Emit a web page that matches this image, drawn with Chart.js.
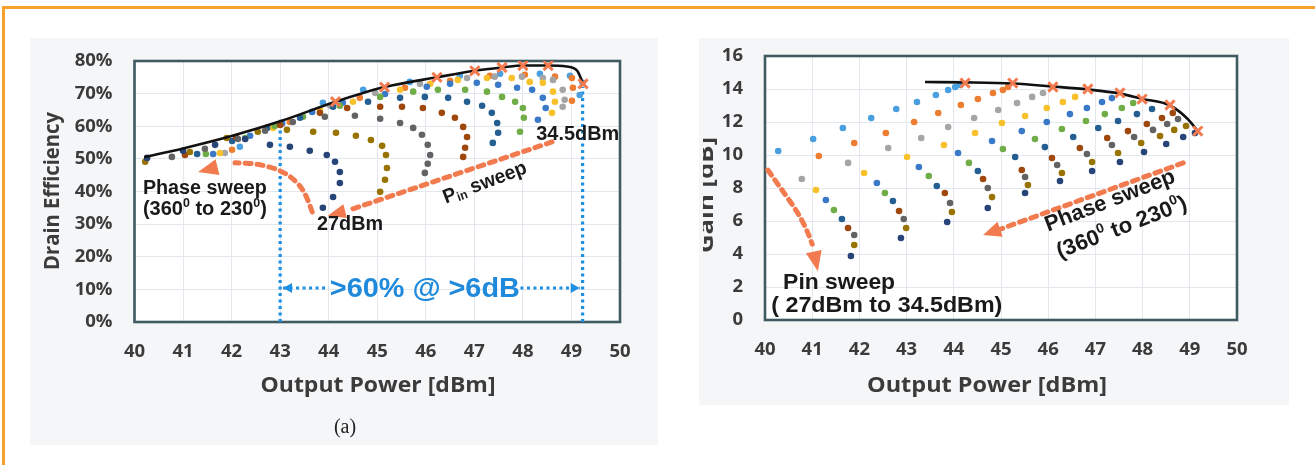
<!DOCTYPE html>
<html><head><meta charset="utf-8">
<script src="https://cdn.jsdelivr.net/npm/chart.js@4.4.1/dist/chart.umd.min.js"></script>
<style>
html,body{margin:0;padding:0;background:#fff;width:1315px;height:465px;overflow:hidden;}
#frame{position:absolute;left:2px;top:6px;width:1400px;height:500px;border-top:3px solid #F6A12C;border-left:3px solid #F6A12C;}
.panel{position:absolute;background:#F5F6F8;}
canvas{position:absolute;left:0;top:0;width:1315px;height:465px;}
</style></head><body>
<div id="frame"></div>
<div class="panel" style="left:30px;top:38px;width:628px;height:407px"></div>
<div class="panel" style="left:699px;top:38px;width:590px;height:367px"></div>
<canvas id="eff" width="1315" height="465"></canvas>
<canvas id="gain" width="1315" height="465"></canvas>
<script>
// ---------- axis ticks ----------
const powerTicks = [40,41,42,43,44,45,46,47,48,49,50];
const effTickLabels = ['0%','10%','20%','30%','40%','50%','60%','70%','80%'];
const gainTickLabels = ['0','2','4','6','8','10','12','14','16'];

// ---------- Drain efficiency [%] vs Pout [dBm]; one array per Pin (phase sweep 360° -> 230°) ----------
const effPin27_00 = [[40.26,50.3],[41.00,52.5],[41.66,54.3],[42.28,56.1],[42.79,54.3],[43.20,53.7],[43.61,52.5],[43.96,51.2],[44.13,49.1],[44.23,46.0],[44.23,42.6],[44.09,38.3],[43.88,35.0]];
const effPin27_75 = [[40.22,49.1],[41.14,52.1],[41.90,56.4],[42.54,58.3],[43.14,58.9],[43.68,58.3],[44.15,58.0],[44.56,57.1],[44.87,55.8],[45.10,54.0],[45.18,51.2],[45.20,47.2],[45.16,43.6],[45.06,39.9]];
const effPin28_50 = [[40.77,50.6],[41.45,53.1],[42.13,56.1],[42.69,58.6],[43.26,61.3],[43.92,62.9],[44.54,63.2],[45.06,62.3],[45.47,61.0],[45.74,59.5],[45.92,57.4],[46.04,54.3],[46.09,51.2],[46.04,48.5],[45.98,45.7]];
const effPin29_25 = [[41.04,51.2],[42.09,56.7],[43.00,60.4],[43.82,64.1],[44.38,65.6],[45.06,66.0],[45.51,66.0],[45.94,65.6],[46.33,64.1],[46.60,62.6],[46.77,59.8],[46.85,56.7],[46.81,53.4],[46.77,50.6]];
const effPin30_00 = [[41.29,51.5],[42.01,55.5],[42.73,59.5],[43.41,62.6],[44.09,66.0],[44.81,67.5],[45.47,68.7],[45.98,69.0],[46.46,68.7],[46.85,67.5],[47.16,66.3],[47.36,64.1],[47.47,61.0],[47.49,58.0],[47.38,54.9]];
const effPin30_75 = [[41.47,51.5],[42.28,56.4],[42.89,60.1],[43.47,62.9],[44.23,66.3],[45.06,69.0],[45.74,70.6],[46.25,71.2],[46.81,71.2],[47.26,70.6],[47.57,69.0],[47.84,67.5],[48.00,65.6],[48.02,62.6],[47.94,58.3]];
const effPin31_50 = [[41.62,51.5],[42.38,57.1],[43.04,61.0],[43.66,64.4],[44.29,67.2],[45.16,69.9],[46.02,72.1],[46.50,73.0],[47.05,73.3],[47.49,72.7],[47.88,71.8],[48.19,71.2],[48.41,68.7],[48.47,65.6],[48.31,62.0]];
const effPin32_25 = [[41.76,51.8],[42.85,59.5],[43.82,65.0],[44.50,67.5],[45.47,71.2],[46.09,73.0],[46.66,74.2],[47.26,74.8],[47.77,74.8],[48.14,73.6],[48.41,73.3],[48.62,70.6],[48.66,67.5],[48.60,64.1]];
const effPin33_00 = [[41.86,51.8],[43.04,60.7],[44.03,66.3],[44.96,70.2],[45.88,73.0],[46.85,74.8],[47.42,75.2],[47.98,75.2],[48.41,74.8],[48.62,74.2],[48.82,71.2],[48.86,68.1],[48.82,66.0]];
const effPin33_75 = [[42.01,52.8],[43.20,61.3],[44.64,68.7],[45.57,71.8],[46.50,73.9],[47.32,75.5],[48.04,75.8],[48.66,75.2],[49.01,74.8],[49.03,71.8],[49.01,67.8]];
const effPin34_50 = [[42.17,53.7],[43.88,67.2],[44.71,71.2],[45.67,73.6],[46.70,75.5],[47.53,76.1],[48.35,76.1],[48.97,75.5],[49.23,73.3],[49.17,69.6]];
const effEnvelope = [[40.2,50.5],[41,53.2],[42,57.0],[43,61.5],[44.14,67.5],[45.15,72.0],[46.23,75.0],[47.01,77.0],[47.57,78.0],[48.0,78.6],[48.52,78.6],[48.9,78.3],[49.12,77.0],[49.24,73.0]];
const effMarked = [[44.14,67.5],[45.15,72.0],[46.23,75.0],[47.01,77.0],[47.57,78.0],[48.0,78.6],[48.52,78.6],[49.24,73.0]];
const effRangeLow = [[43.0,0],[43.0,62]];
const effRangeHigh = [[49.23,0],[49.23,72]];

// ---------- Gain [dB] vs Pout [dBm]; one array per Pin ----------
const gainPin1  = [[40.28,10.24],[41.02,10.97],[41.65,11.64],[42.25,12.24],[42.78,12.79],[43.22,13.21],[43.62,13.64],[43.88,13.94],[44.03,14.12],[44.13,14.24]];
const gainPin2  = [[41.14,9.94],[41.89,10.73],[42.56,11.33],[43.16,12.00],[43.67,12.55],[44.15,13.03],[44.51,13.39],[44.83,13.76],[45.04,13.94],[45.15,14.12]];
const gainPin3  = [[40.78,8.55],[41.76,9.52],[42.61,10.42],[43.31,11.03],[43.88,11.70],[44.43,12.24],[44.94,12.73],[45.34,13.15],[45.66,13.52],[45.89,13.76]];
const gainPin4  = [[41.08,7.88],[42.10,8.91],[43.01,9.88],[43.79,10.61],[44.45,11.33],[45.02,11.94],[45.51,12.36],[45.97,12.85],[46.31,13.21],[46.57,13.52]];
const gainPin5  = [[41.29,7.27],[42.37,8.30],[43.26,9.27],[44.09,10.12],[44.81,10.85],[45.44,11.45],[45.97,12.00],[46.46,12.48],[46.82,12.85],[47.14,13.21],[47.35,13.45]];
const gainPin6  = [[41.46,6.67],[42.54,7.70],[43.47,8.73],[44.32,9.52],[45.04,10.36],[45.72,10.97],[46.29,11.58],[46.80,12.06],[47.20,12.48],[47.56,12.85],[47.80,13.15]];
const gainPin7  = [[41.63,6.12],[42.71,7.21],[43.64,8.12],[44.51,9.03],[45.30,9.88],[45.93,10.48],[46.53,11.09],[47.06,11.64],[47.48,12.06],[47.88,12.48],[48.20,12.79]];
const gainPin8  = [[41.76,5.58],[42.84,6.61],[43.81,7.70],[44.62,8.55],[45.44,9.09],[46.08,9.82],[46.67,10.42],[47.25,11.03],[47.69,11.45],[48.09,11.88],[48.41,12.24],[48.64,12.55]];
const gainPin9  = [[41.89,5.15],[42.94,6.12],[43.92,7.09],[44.72,8.00],[45.51,8.67],[46.19,9.39],[46.82,10.06],[47.35,10.61],[47.82,11.09],[48.22,11.52],[48.52,11.88],[48.75,12.18]];
const gainPin10 = [[41.89,4.55],[42.99,5.58],[43.96,6.55],[44.81,7.45],[45.57,8.18],[46.29,8.91],[46.93,9.58],[47.48,10.12],[47.97,10.73],[48.37,11.15],[48.67,11.52],[48.92,11.76]];
const gainPin11 = [[41.82,3.88],[42.88,4.97],[43.86,5.94],[44.72,6.79],[45.51,7.70],[46.25,8.42],[46.93,9.03],[47.52,9.58],[48.03,10.18],[48.50,10.67],[48.86,11.09],[49.11,11.33]];
const gainEnvelope = [[43.39,14.42],[44.24,14.40],[45.25,14.33],[46.10,14.15],[46.84,13.97],[47.52,13.72],[47.99,13.40],[48.58,13.00],[48.95,12.20],[49.17,11.45]];
const gainMarked = [[44.24,14.36],[45.25,14.36],[46.10,14.12],[46.84,14.00],[47.52,13.76],[47.99,13.39],[48.58,13.03],[49.17,11.45]];

// ---------- styles ----------
const palette = ['#4A9FE0','#ED7D31','#A5A5A5','#F8C12C','#3A78C8','#70AD47','#255E91','#9E480E','#636363','#997300','#264478'];
const ORANGE = '#F27A4F';
const BLUE = '#1E8FE1';
const TXT = '#3b3b3b';
const SANS = "'Liberation Sans', Arial, sans-serif";
const OPEN = "'Open Sans', sans-serif";

const toXY = arr => arr.map(p => ({x:p[0], y:p[1]}));

function dots(arr, color){ return {type:'scatter', data:toXY(arr), backgroundColor:color, borderColor:color, pointRadius:3.3, pointBorderWidth:0, showLine:false, order:3}; }
function marks(arr){ return {type:'scatter', data:toXY(arr), pointStyle:'crossRot', pointRadius:6.5, pointBorderWidth:3, borderColor:ORANGE, backgroundColor:ORANGE, showLine:false, order:0}; }
function envelope(arr){ return {type:'scatter', data:toXY(arr), showLine:true, pointRadius:0, borderColor:'#111', borderWidth:2.6, cubicInterpolationMode:'monotone', order:1}; }
function vline(arr){ return {type:'scatter', data:toXY(arr), showLine:true, pointRadius:0, borderColor:BLUE, borderWidth:3.2, borderDash:[3,3.5], order:4}; }

// ---------- drawing helpers ----------
function rich(ctx, parts, cx, cy, size, width, angle, color, family, weight){
  family = family || SANS; weight = weight || 'bold';
  ctx.save(); ctx.translate(cx, cy); ctx.rotate(angle||0);
  let total = 0; const ms = [];
  for (const p of parts){ const s = p[1] ? size*0.62 : size; ctx.font = weight+' '+s+'px '+family; const w = ctx.measureText(p[0]).width; ms.push([s,w]); total += w; }
  const sx = width ? width/total : 1;
  ctx.scale(sx,1);
  let x = -total/2; ctx.fillStyle = color||'#1a1a1a'; ctx.textBaseline='middle'; ctx.textAlign='left';
  parts.forEach((p,i)=>{ ctx.font = weight+' '+ms[i][0]+'px '+family; const dy = p[1]==='sup' ? -size*0.32 : (p[1]==='sub' ? size*0.22 : 0); ctx.fillText(p[0], x, dy); x += ms[i][1]; });
  ctx.restore();
}
function dashedPath(ctx, pts, color, lw, dash, cap){
  ctx.save(); ctx.strokeStyle=color; ctx.lineWidth=lw; ctx.setLineDash(dash); ctx.lineCap=cap||'round';
  ctx.beginPath(); ctx.moveTo(pts[0][0],pts[0][1]);
  if (pts.length===2) ctx.lineTo(pts[1][0],pts[1][1]);
  else { for (let i=1;i<pts.length-1;i++){ const mx=(pts[i][0]+pts[i+1][0])/2, my=(pts[i][1]+pts[i+1][1])/2; ctx.quadraticCurveTo(pts[i][0],pts[i][1],mx,my);} ctx.lineTo(pts[pts.length-1][0],pts[pts.length-1][1]); }
  ctx.stroke(); ctx.restore();
}
function head(ctx, from, tip, len, half, color){
  const a = Math.atan2(tip[1]-from[1], tip[0]-from[0]);
  ctx.save(); ctx.translate(tip[0],tip[1]); ctx.rotate(a);
  ctx.beginPath(); ctx.moveTo(0,0); ctx.lineTo(-len,-half); ctx.lineTo(-len,half); ctx.closePath();
  ctx.fillStyle=color; ctx.fill(); ctx.restore();
}

function framePlugin(){
  return {
    id:'frameBg',
    beforeDraw(chart){ const a=chart.chartArea, c=chart.ctx; c.save(); c.fillStyle='#fff'; c.fillRect(a.left,a.top,a.right-a.left,a.bottom-a.top); c.restore(); },
    beforeDatasetsDraw(chart){ const a=chart.chartArea, c=chart.ctx; c.save(); c.strokeStyle='#3F5A60'; c.lineWidth=2.6; c.strokeRect(a.left,a.top,a.right-a.left,a.bottom-a.top); c.restore(); }
  };
}

function baseOptions(pad, yWidth, xHeight, yMax, yStep, yLabels){
  const tickFont = {family:OPEN, size:18.5, weight:'bold'};
  return {
    responsive:false, maintainAspectRatio:false, animation:false, devicePixelRatio:1,
    layout:{padding:pad},
    plugins:{legend:{display:false}, tooltip:{enabled:false}},
    scales:{
      x:{type:'linear', min:40, max:50,
         afterBuildTicks(s){ s.ticks = powerTicks.map(v=>({value:v})); },
         afterFit(s){ s.height = xHeight; s.paddingLeft=0; s.paddingRight=0; },
         grid:{color:'#E2E8EE', lineWidth:1, drawTicks:false}, border:{display:false},
         ticks:{autoSkip:false, maxRotation:0, padding:19, color:TXT, font:tickFont, callback:v=>String(v)}},
      y:{type:'linear', min:0, max:yMax,
         afterBuildTicks(s){ s.ticks = yLabels.map((l,i)=>({value:i*yStep})); },
         afterFit(s){ s.width = yWidth; s.paddingTop=0; s.paddingBottom=0; },
         grid:{color:'#E2E8EE', lineWidth:1, drawTicks:false}, border:{display:false},
         ticks:{padding:22, color:TXT, font:tickFont, callback:(v)=>yLabels[Math.round(v/yStep)]}}
    }
  };
}

// ---------- left chart: drain efficiency ----------
const effSeries = [effPin27_00,effPin27_75,effPin28_50,effPin29_25,effPin30_00,effPin30_75,effPin31_50,effPin32_25,effPin33_00,effPin33_75,effPin34_50];
const effDatasets = [marks(effMarked), envelope(effEnvelope)]
  .concat(effSeries.map((s,i)=>dots(s, palette[10-i])))
  .concat([vline(effRangeLow), vline(effRangeHigh)]);

const effAnnot = {
  id:'effAnnot',
  afterDraw(chart){
    const c=chart.ctx, X=chart.scales.x, Y=chart.scales.y;
    const P=(x,y)=>[X.getPixelForValue(x), Y.getPixelForValue(y)];
    const ph=[[43.66,33.7],[43.55,38.7],[43.33,43.3],[43.0,46.6],[42.54,48.5],[42.07,48.8]].map(p=>P(p[0],p[1]));
    dashedPath(c, ph, ORANGE, 5, [6,6]);
    head(c, ph[ph.length-1], P(41.31,46.0), 20, 8, ORANGE);
    const pa=[P(48.6,55.2), P(44.42,34.3)];
    dashedPath(c, pa, ORANGE, 5, [6,6]);
    head(c, pa[1], P(43.98,32.6), 18, 7, ORANGE);
    const yA=10.4, l=P(43.06,yA), r=P(49.17,yA);
    dashedPath(c, [l, P(44.0,yA)], BLUE, 3, [3,3.5], 'butt');
    dashedPath(c, [P(47.95,yA), r], BLUE, 3, [3,3.5], 'butt');
    head(c, [l[0]+10,l[1]], l, 9, 5, BLUE);
    head(c, [r[0]-10,r[1]], r, 9, 5, BLUE);
    const t=P(45.98,10.1);
    rich(c, [['>60% @ >6dB']], t[0], t[1], 27, 190, 0, '#1F8ADB');
    let q=P(41.45,40.8); rich(c, [['Phase sweep']], q[0], q[1], 20, 124, 0, '#1a1a1a');
    q=P(41.45,34.4); rich(c, [['(360'],['0','sup'],[' to 230'],['0','sup'],[')']], q[0], q[1], 20, 124, 0, '#1a1a1a');
    q=P(44.44,29.8); rich(c, [['27dBm']], q[0], q[1], 20, 66, 0, '#1a1a1a');
    q=P(49.13,57.4); rich(c, [['34.5dBm']], q[0], q[1], 20, 83, 0, '#1a1a1a');
    q=P(47.22,42.6); rich(c, [['P'],['in','sub'],[' sweep']], q[0], q[1], 20, 88, -0.36, '#1a1a1a');
    rich(c, [['Output Power [dBm]']], 378, 386, 21, 235, 0, TXT, OPEN);
    rich(c, [['Drain Efficiency']], 53, 191, 21, 158, -Math.PI/2, TXT, OPEN);
    c.save(); c.font="20px 'Liberation Serif', serif"; c.fillStyle='#222'; c.textAlign='center'; c.textBaseline='middle'; c.fillText('(a)', 345, 428); c.restore();
  }
};

new Chart(document.getElementById('eff'), {
  type:'scatter',
  data:{datasets:effDatasets},
  options:baseOptions({left:30, right:695, top:61, bottom:40}, 104.5, 103, 80, 10, effTickLabels),
  plugins:[framePlugin(), effAnnot]
});

// ---------- right chart: gain ----------
const gainSeries = [gainPin1,gainPin2,gainPin3,gainPin4,gainPin5,gainPin6,gainPin7,gainPin8,gainPin9,gainPin10,gainPin11];
const gainDatasets = [marks(gainMarked), envelope(gainEnvelope)]
  .concat(gainSeries.map((s,i)=>dots(s, palette[i])));

const gainAnnot = {
  id:'gainAnnot',
  afterDraw(chart){
    const c=chart.ctx, X=chart.scales.x, Y=chart.scales.y;
    const P=(x,y)=>[X.getPixelForValue(x), Y.getPixelForValue(y)];
    const pin=[[40.06,9.09],[40.36,7.88],[40.66,6.67],[40.87,5.58],[41.0,4.6]].map(p=>P(p[0],p[1]));
    dashedPath(c, pin, ORANGE, 5, [6,6]);
    head(c, pin[pin.length-1], P(41.12,2.95), 20, 8, ORANGE);
    const ph=[P(48.86,9.52), P(44.98,5.5)];
    dashedPath(c, ph, ORANGE, 5, [6,6]);
    head(c, ph[1], P(44.62,5.15), 18, 8, ORANGE);
    let q=P(41.57,2.24); rich(c, [['Pin sweep']], q[0], q[1], 22, 112, 0, '#1a1a1a');
    q=P(42.58,0.85); rich(c, [['( 27dBm to 34.5dBm)']], q[0], q[1], 22, 231, 0, '#1a1a1a');
    q=P(47.31,7.21); rich(c, [['Phase sweep']], q[0], q[1], 22, 138, -0.37, '#1a1a1a');
    q=P(47.56,5.58); rich(c, [['(360'],['0','sup'],[' to 230'],['0','sup'],[')']], q[0], q[1], 22, 138, -0.37, '#1a1a1a');
    rich(c, [['Output Power [dBm]']], 987, 386, 21, 240, 0, TXT, OPEN);
    c.save(); c.beginPath(); c.rect(703, 40, 40, 300); c.clip();
    rich(c, [['Gain [dB]']], 707, 195, 22, 116, -Math.PI/2, TXT, OPEN);
    c.restore();
  }
};

new Chart(document.getElementById('gain'), {
  type:'scatter',
  data:{datasets:gainDatasets},
  options:baseOptions({left:700, right:78, top:56, bottom:40}, 65, 105, 16, 2, gainTickLabels),
  plugins:[framePlugin(), gainAnnot]
});
</script>
</body></html>
